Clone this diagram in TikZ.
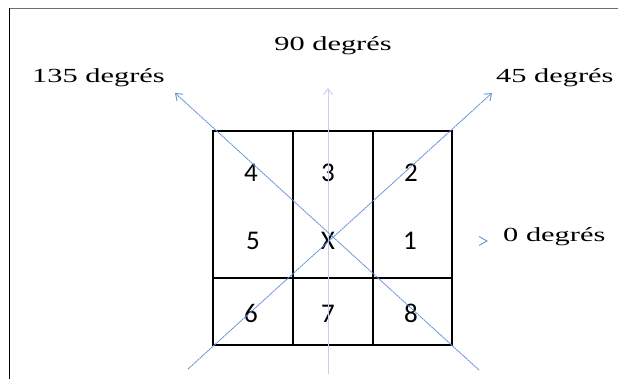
\documentclass[tikz,border=0pt]{standalone}
\usepackage{fontspec}
\setmainfont{Liberation Serif}
\newfontfamily\cellfont{Carlito}
\usetikzlibrary{arrows.meta}
\definecolor{diagblue}{RGB}{105,148,212}
\definecolor{vertblue}{RGB}{196,208,238}
\definecolor{framegray}{RGB}{110,110,110}
\tikzset{
  lbl/.style={inner sep=0pt, anchor=base west, font=\fontsize{20}{23}\selectfont},
  cell/.style={inner sep=0pt, anchor=base, font=\cellfont\fontsize{27}{30}\selectfont},
  gridline/.style={line width=1.4pt, black},
  diag/.style={diagblue, line width=0.9pt, dash pattern=on 2pt off 0.6pt, -{Straight Barb[length=6pt,width=9pt]}},
  vert/.style={vertblue, line width=0.9pt, -{Straight Barb[length=6pt,width=9pt]}},
}
\newcommand{\wide}[1]{\scalebox{1.52}[1]{#1}}
\begin{document}
\begin{tikzpicture}[x=1pt,y=-1pt]
\useasboundingbox (0,0) rectangle (618,379);
% frame
\draw[framegray, line width=1pt] (8.5,8.5) -- (618,8.5);
\draw[black, line width=1pt] (9,8.5) -- (9,379);
% grid
\draw[gridline] (213,131) rectangle (452,345);
\draw[gridline] (293,131) -- (293,345);
\draw[gridline] (373,131) -- (373,345);
\draw[gridline] (213,278) -- (452,278);
% cell labels
\node[cell] (c4) at (251,182) {4};
\node[cell] (c3) at (328,182) {3};
\node[cell] (c2) at (411,182) {2};
\node[cell] (c5) at (253,250) {5};
\node[cell] (cx) at (328,250) {X};
\node[cell] (c1) at (410,250) {1};
\node[cell] (c6) at (251,322) {6};
\node[cell] (c7) at (328,322) {7};
\node[cell] (c8) at (411,322) {8};
% direction labels
\node[lbl] (l135) at (32,83) {\wide{135 degrés}};
\node[lbl, anchor=base] (l90) at (333,51) {\wide{90 degrés}};
\node[lbl] (l45) at (496,83) {\wide{45 degrés}};
\node[lbl] (l0) at (503,242) {\wide{0 degrés}};
% lines
\coordinate (d45s) at (188,369);
\coordinate (d45e) at (492,93);
\coordinate (d135s) at (479,370);
\coordinate (d135e) at (175,93);
\coordinate (v90s) at (328,374);
\coordinate (v90e) at (328,88);
\draw[vert] (v90s) -- (v90e);
\draw[diag] (d45s) -- (d45e);
\draw[diag] (d135s) -- (d135e);
% 0 degree tip
\coordinate (t0a) at (479,236.5);
\coordinate (t0b) at (487,241);
\coordinate (t0c) at (479,245.5);
\draw[diagblue, line width=0.9pt] (t0a) -- (t0b) -- (t0c);
\end{tikzpicture}
\end{document}
